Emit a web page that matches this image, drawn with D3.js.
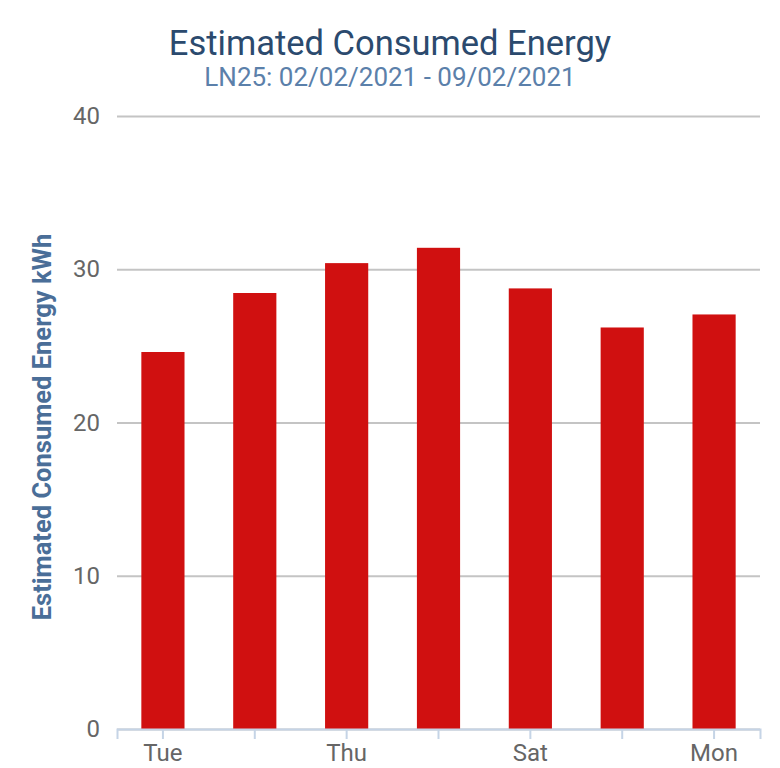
<!DOCTYPE html>
<html>
<head>
<meta charset="utf-8">
<script src="https://cdn.jsdelivr.net/npm/d3@7"></script>
<style>
  body { margin: 0; background: #fff; }
  svg { font-family: Roboto, "Noto Sans", sans-serif; }
</style>
</head>
<body>
<script>
// data
var days = ["Tue", "Wed", "Thu", "Fri", "Sat", "Sun", "Mon"];
var energy = [24.6, 28.45, 30.4, 31.4, 28.75, 26.2, 27.05];
var yTicks = [0, 10, 20, 30, 40];
var shownLabels = ["Tue", "Thu", "Sat", "Mon"];

var width = 780, height = 768;
var margin = {top: 116, right: 20, bottom: 39, left: 117};
var innerW = width - margin.left - margin.right,
    innerH = height - margin.top - margin.bottom;

var svg = d3.select("body")
  .append("svg")
  .attr("width", width)
  .attr("height", height);

// titles
svg.append("text")
  .attr("x", 390).attr("y", 55)
  .attr("text-anchor", "middle")
  .style("font-size", "34.5px")
  .style("fill", "#2b4a6e")
  .text("Estimated Consumed Energy");

svg.append("text")
  .attr("x", 390).attr("y", 86)
  .attr("text-anchor", "middle")
  .style("font-size", "26px")
  .style("fill", "#5b80aa")
  .text("LN25: 02/02/2021 - 09/02/2021");

var g = svg.append("g")
  .attr("transform", "translate(" + margin.left + "," + margin.top + ")");

var x = d3.scaleBand()
  .domain(days)
  .range([0, innerW])
  .paddingInner(0.53)
  .paddingOuter(0.265);

var y = d3.scaleLinear()
  .domain([0, 40])
  .range([innerH, 0]);

// gridlines + y labels
var yAxis = g.append("g")
  .call(d3.axisLeft(y).tickValues(yTicks).tickSize(-innerW).tickPadding(17));
yAxis.select(".domain").remove();
yAxis.selectAll(".tick line")
  .attr("stroke", "#c4c4c4")
  .attr("stroke-width", 2);
yAxis.selectAll(".tick text")
  .style("font-size", "24px")
  .style("font-family", "Roboto, sans-serif")
  .style("fill", "#666");

// bars
g.selectAll("rect.bar")
  .data(energy)
  .enter()
  .append("rect")
  .attr("class", "bar")
  .attr("x", function(d, i) { return x(days[i]); })
  .attr("y", function(d) { return y(d); })
  .attr("width", x.bandwidth())
  .attr("height", function(d) { return innerH - y(d); })
  .attr("fill", "#d01010");

// x axis
var xAxis = g.append("g")
  .attr("transform", "translate(0," + innerH + ")")
  .call(d3.axisBottom(x).tickSizeOuter(0).tickSize(10).tickPadding(5)
    .tickFormat(function(d) { return shownLabels.indexOf(d) >= 0 ? d : ""; }));
xAxis.select(".domain")
  .attr("stroke", "#c5d4e6")
  .attr("stroke-width", 2);
xAxis.selectAll(".tick line")
  .attr("stroke", "#c5d4e6")
  .attr("stroke-width", 2);
xAxis.selectAll(".tick text")
  .style("font-size", "24px")
  .style("font-family", "Roboto, sans-serif")
  .style("fill", "#666");

// y axis title
svg.append("text")
  .attr("transform", "translate(51," + (margin.top + innerH / 2 + 4.5) + ") rotate(-90)")
  .attr("text-anchor", "middle")
  .style("font-size", "25.5px")
  .style("font-weight", "bold")
  .style("fill", "#4a6e98")
  .text("Estimated Consumed Energy kWh");
</script>
</body>
</html>
